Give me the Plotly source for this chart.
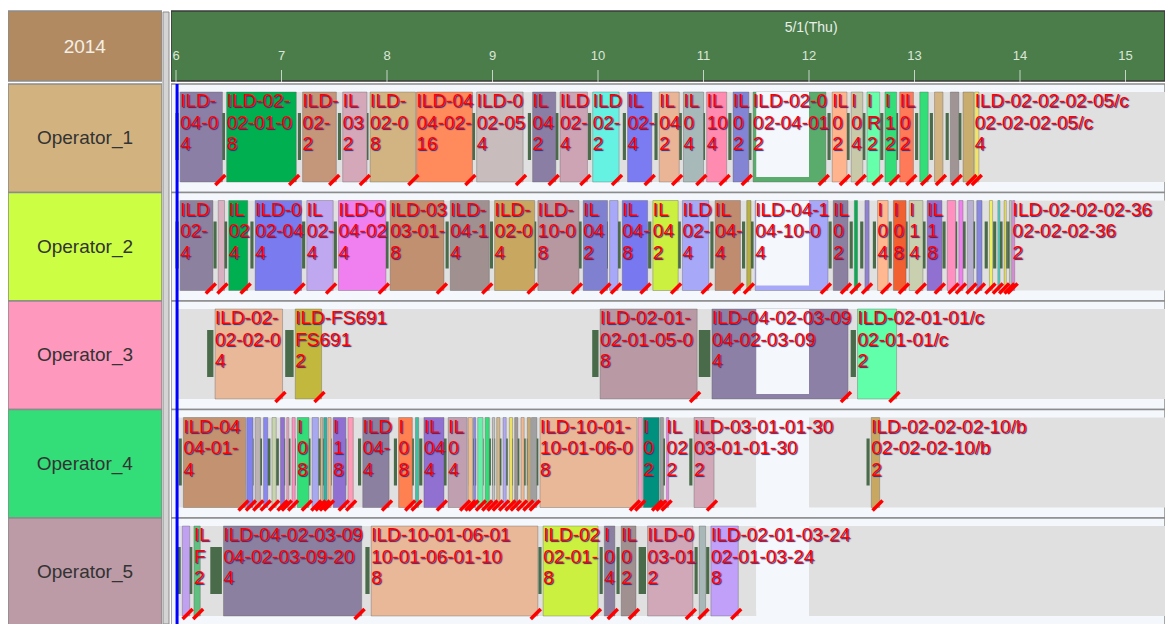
import plotly.graph_objects as go

# ---- header / rows
year_label = "2014"
day_label = "5/1(Thu)"
operators = ["Operator_1", "Operator_2", "Operator_3", "Operator_4", "Operator_5"]
hour_ticks = [6, 7, 8, 9, 10, 11, 12, 13, 14, 15]
now_time = 6.01
shift_start, shift_end = 6.0, 15.6
break_start, break_end = 11.5, 12.0

# ---- Operator_1
op1_start = [6.04, 6.48, 7.20, 7.58, 7.84, 8.28, 8.85, 9.38, 9.64, 9.95, 10.28, 10.58, 10.81,
             11.03, 11.28, 11.47, 12.22, 12.40, 12.55, 12.72, 12.86, 13.05, 13.19, 13.34, 13.46, 13.57]
op1_end = [6.44, 7.14, 7.52, 7.81, 8.27, 8.81, 9.29, 9.60, 9.90, 10.20, 10.51, 10.77, 11.00,
           11.22, 11.43, 12.16, 12.36, 12.51, 12.67, 12.83, 12.99, 13.13, 13.27, 13.42, 13.56, 13.61]
op1_item = ["ILD-04-02-03-09", "ILD-02-01-09-12", "ILD-02-02-03-11", "ILD-03-01-01-12", "ILD-02-01-05-01",
            "ILD-04-02-01-03", "ILD-02-05-01-02", "ILD-04-01-02", "ILD-02-03-01", "ILD-02-01-06",
            "ILD-02-04-02", "ILD-04-03-01", "ILD-04-01-05", "ILD-10-01-02", "ILD-02-02-01",
            "ILD-02-04-01-05", "ILD-02-03-05", "ILD-04-02-07", "ILD-R02", "ILD-10-01-03", "ILD-03-02-01",
            "", "", "", "", "ILD-02-02-02-05/c"]
op1_code = ["04-02-03-09-20", "02-01-09-12", "02-02-03-11", "03-01-01-12", "02-01-05-01",
            "04-02-01-03", "02-05-01-02", "04-01-02", "02-03-01", "02-01-06",
            "02-04-02", "04-03-01", "04-01-05", "10-01-02", "02-02-01",
            "02-04-01-05", "02-03-05", "04-02-07", "R02", "10-01-03", "03-02-01",
            "", "", "", "", "02-02-02-05/c"]
op1_qty = ["4", "8", "2", "2", "8", "16", "4", "2", "4", "2", "4", "2", "4", "4", "2",
           "2", "2", "4", "2", "2", "2", "", "", "", "", "4"]
op1_setup = None

# ---- Operator_2
op2_start = [6.04, 6.40, 6.50, 6.75, 7.24, 7.54, 8.03, 8.60, 9.02, 9.43, 9.86, 10.11, 10.23, 10.52,
             10.80, 11.11, 11.41, 11.49, 12.23, 12.43, 12.53, 12.65, 12.80, 12.95, 13.12, 13.31,
             13.42, 13.50, 13.59, 13.71, 13.79, 13.85, 13.90, 13.93]
op2_end = [6.35, 6.46, 6.68, 7.19, 7.49, 7.99, 8.54, 8.97, 9.40, 9.82, 10.09, 10.19, 10.47, 10.76,
           11.05, 11.35, 11.45, 12.18, 12.37, 12.46, 12.57, 12.75, 12.92, 13.08, 13.26, 13.39,
           13.46, 13.56, 13.64, 13.74, 13.81, 13.87, 13.92, 13.95]
op2_item = ["ILD-02-01-07", "", "ILD-02-04-05", "ILD-02-04-03", "ILD-02-03-08", "ILD-04-02-06",
            "ILD-03-01-04-02", "ILD-04-10-02", "ILD-02-03-10", "ILD-10-01-05", "ILD-04-02-09", "",
            "ILD-04-01-11", "ILD-04-03-02", "ILD-02-05-04", "ILD-04-02-11", "", "ILD-04-10-06-01",
            "ILD-04-01-03", "", "", "ILD-03-02-05", "ILD-03-01-06", "ILD-10-01-04", "ILD-10-02-01",
            "", "", "", "", "", "", "", "", "ILD-02-02-02-36"]
op2_code = ["02-01-07", "", "02-04-05", "02-04-03", "02-03-08", "04-02-06",
            "03-01-04-02", "04-10-02", "02-03-10", "10-01-05", "04-02-09", "",
            "04-01-11", "04-03-02", "02-05-04", "04-02-11", "", "04-10-06-01",
            "04-01-03", "", "", "03-02-05", "03-01-06", "10-01-04", "10-02-01",
            "", "", "", "", "", "", "", "", "02-02-02-36"]
op2_qty = ["4", "", "4", "4", "4", "4", "8", "4", "4", "8", "2", "", "8", "2", "4", "4", "", "4",
           "2", "", "", "4", "8", "4", "8", "", "", "", "", "", "", "", "", "2"]
op2_setup = None

# ---- Operator_3
op3_start = [6.37, 7.13, 10.02, 11.08, 12.46]
op3_end = [7.01, 7.38, 10.94, 12.37, 12.83]
op3_item = ["ILD-02-02-03-07", "ILD-FS691", "ILD-02-01-05-04", "ILD-04-02-03-09", "ILD-02-01-01/c"]
op3_code = ["02-02-03-07", "FS691", "02-01-05-04", "04-02-03-09", "02-01-01/c"]
op3_qty = ["4", "2", "8", "4", "2"]
op3_setup = [0.06, 0.08, 0.06, 0.11, 0.05]

# ---- Operator_4
op4_start = [6.07, 6.67, 6.75, 6.83, 6.91, 6.99, 7.05, 7.10, 7.15, 7.29, 7.37, 7.40, 7.44, 7.49,
             7.63, 7.77, 8.11, 8.27, 8.35, 8.58, 8.77, 8.82, 8.86, 8.93, 9.00, 9.04, 9.10, 9.16,
             9.21, 9.27, 9.33, 9.37, 9.45, 10.38, 10.43, 10.59, 10.65, 10.91, 12.59]
op4_end = [6.66, 6.73, 6.80, 6.87, 6.95, 7.03, 7.07, 7.13, 7.26, 7.35, 7.39, 7.43, 7.47, 7.61,
           7.68, 8.02, 8.24, 8.30, 8.54, 8.76, 8.81, 8.84, 8.91, 8.97, 9.02, 9.07, 9.13, 9.19,
           9.24, 9.30, 9.36, 9.42, 10.37, 10.42, 10.58, 10.62, 10.67, 11.10, 12.67]
op4_item = ["ILD-04-01-06-02", "", "", "", "", "", "", "", "ILD-04-03", "", "", "", "",
            "ILD-10-01", "", "ILD-04-02-05", "ILD-03-01", "", "ILD-04-04", "ILD-02-06",
            "", "", "", "", "", "", "", "", "", "", "", "", "ILD-10-01-06-01", "",
            "ILD-04-02-08", "", "ILD-02-07", "ILD-03-01-01-30", "ILD-02-02-02-10/b"]
op4_code = ["04-01-06-02", "", "", "", "", "", "", "", "04-03-05", "", "", "", "",
            "10-01-07", "", "04-02-05", "03-01-03", "", "04-04-02", "02-06-01",
            "", "", "", "", "", "", "", "", "", "", "", "", "10-01-06-01", "",
            "04-02-08", "", "02-07-03", "03-01-01-30", "02-02-02-10/b"]
op4_qty = ["4", "", "", "", "", "", "", "", "8", "", "", "", "", "8", "", "4", "8", "", "4", "4",
           "", "", "", "", "", "", "", "", "", "", "", "", "8", "", "2", "", "2", "2", "2"]
op4_setup = None

# ---- Operator_5
op5_start = [6.06, 6.17, 6.45, 7.85, 9.48, 10.06, 10.22, 10.47, 10.96, 11.07]
op5_end = [6.13, 6.23, 7.76, 9.43, 10.00, 10.16, 10.36, 10.90, 11.02, 11.33]
op5_item = ["", "ILD-FS691", "ILD-04-02-03-09", "ILD-10-01-06-01", "ILD-02-01-07", "ILD-04-03",
            "ILD-02-04", "ILD-03-01-02", "", "ILD-02-01-03-24"]
op5_code = ["", "FS691", "04-02-03-09-20", "10-01-06-01-10", "02-01-07", "04-03-01",
            "02-04-05", "03-01-02", "", "02-01-03-24"]
op5_qty = ["", "2", "4", "8", "8", "4", "2", "2", "", "8"]
op5_setup = [0.03, 0.03, 0.11, 0.04, 0.03, 0.03, 0.03, 0.07, 0.03, 0.03]

# ---- styles
cell_colors = ["#b28a62", "#d2b380", "#ccff44", "#ff98bd", "#33dd77", "#bc9aa6"]
op1_color = ["#8b7fa6", "#00b050", "#c4967a", "#d4a8b8", "#d2b482", "#ff8a5c", "#c9bcbc", "#8a7ea4",
             "#cca4b4", "#66f2e2", "#7b7bf2", "#eab596", "#a8b9b9", "#ff8bb0", "#8484d4", "#5aac6c",
             "#ffb48e", "#c8c9a9", "#66ffaa", "#33dd77", "#ff7a58", "#33dd77", "#d2b482", "#a09594",
             "#c9ad6e", "#f2e46a"]
op2_color = ["#8c82a0", "#d8b0c0", "#00b050", "#7b7bf0", "#c0a8f0", "#f080f0", "#c09070", "#a09090",
             "#c8a860", "#b898a0", "#8080d0", "#a8a8f8", "#7878f0", "#ccf040", "#a8a8f8", "#c08c70",
             "#b8b040", "#a8a8f8", "#8c80a0", "#00b050", "#9080d0", "#ffb890", "#f06030", "#c8d0b0",
             "#9070d0", "#ff90c0", "#f080f0", "#b8b0d0", "#8888e0", "#f0f060", "#50d0c0", "#e8e060",
             "#c0c0c0", "#f080f0"]
op3_color = ["#e8b898", "#c2b83e", "#b99aa4", "#8c80a6", "#62ffaa"]
op4_color = ["#c39270", "#8080f0", "#bcb4b4", "#8888f0", "#c8d4b0", "#9070d0", "#f0a0c0", "#ff90c0",
             "#33dd77", "#a8a8f0", "#d4b88a", "#30b0a0", "#f0b890", "#9070d0", "#ff9ab8", "#8c80a0",
             "#ff8050", "#40c0a0", "#9070d0", "#c0a0b0", "#f0c090", "#8888f0", "#66f0a8", "#33dd77",
             "#c0c0c0", "#d4b88a", "#b0a8f0", "#f0e060", "#a09898", "#f0b890", "#c8a870", "#a0a0a0",
             "#e8b898", "#f0a0c0", "#00907e", "#a0a0a0", "#f080f0", "#d0a8b8", "#c8a860"]
op5_color = ["#c0a0f0", "#60c080", "#8c80a0", "#e8b898", "#ccf040", "#8c80a0", "#a09090", "#d0a8b8",
             "#a8b8b8", "#c0a0f8"]

rows = [
    (op1_start, op1_end, op1_item, op1_code, op1_qty, op1_color, op1_setup),
    (op2_start, op2_end, op2_item, op2_code, op2_qty, op2_color, op2_setup),
    (op3_start, op3_end, op3_item, op3_code, op3_qty, op3_color, op3_setup),
    (op4_start, op4_end, op4_item, op4_code, op4_qty, op4_color, op4_setup),
    (op5_start, op5_end, op5_item, op5_code, op5_qty, op5_color, op5_setup),
]

W, H = 1165, 624
X0, X1 = 5.9526, 15.3744
PXH = (W - 171) / (X1 - X0)   # pixels per hour
ROW_PX = 108.5
FONT = 19
GAP = 0.015
DEFAULT_SETUP = 0.03

CW = {'I': 278, 'L': 556, 'D': 722, '-': 333, '/': 278, 'c': 500, 'b': 556,
      'F': 611, 'S': 667, 'R': 722}


def fit(s, avail):
    # labels get cut where the next job (its setup mark) starts
    out, used = "", 0.0
    for ch in s:
        w = CW.get(ch, 556) * FONT / 1000
        if used + w > avail + 2:
            break
        out += ch
        used += w
    return out


def yoff(i, px):
    return i - 0.5 + px / ROW_PX


fig = go.Figure()

# left column cells
head_y = yoff(0, -38)
head_w = 70 / ROW_PX
fig.add_trace(go.Bar(
    orientation="h", x=[1] * 6, base=0, y=[head_y] + list(range(5)),
    width=[head_w] + [1] * 5, marker=dict(color=cell_colors, line=dict(color="#8c8c8c", width=1.5)),
    text=[year_label] + operators, textposition="inside", insidetextanchor="middle",
    insidetextfont=dict(family="Arial, Liberation Sans", size=19,
                        color=["#f4efe6"] + ["#333333"] * 5),
    xaxis="x2", yaxis="y", hoverinfo="skip"))

# header band
fig.add_trace(go.Bar(
    orientation="h", base=[X0], x=[X1 - X0], y=[head_y], width=[head_w],
    marker=dict(color="#4b7d4b", line=dict(color="#3a3a3a", width=1.5)), hoverinfo="skip"))

# row backgrounds
fig.add_trace(go.Bar(
    orientation="h", base=[X0] * 5, x=[X1 - X0] * 5, y=list(range(5)), width=[1] * 5,
    marker=dict(color="#f4f8fc", line=dict(color="#8c8c8c", width=1.5)), hoverinfo="skip"))

# gray working band (split at the break)
by, bx, bl = [], [], []
for i in range(5):
    for a, b in [(shift_start, break_start), (break_end, shift_end)]:
        by.append(yoff(i, 53))
        bx.append(a)
        bl.append(b - a)
fig.add_trace(go.Bar(orientation="h", base=bx, x=bl, y=by, width=90 / ROW_PX,
                     marker=dict(color="#e0e0e0", line=dict(width=0)), hoverinfo="skip"))

sx, sl, sy = [], [], []
tx, tl, ty, tc, th = [], [], [], [], []
slash_x, slash_y = [], []
lab = [[], [], []]
lab_x, lab_y = [], [[], [], []]
for i, (st, en, item, code, qty, col, setup) in enumerate(rows):
    n = len(st)
    su = setup if setup is not None else [DEFAULT_SETUP] * n
    for k in range(n):
        sx.append(st[k] - GAP - su[k])
        sl.append(su[k])
        sy.append(yoff(i, 52.5))
        tx.append(st[k])
        tl.append(en[k] - st[k])
        ty.append(yoff(i, 53))
        tc.append(col[k])
        th.append(f"{operators[i]}<br>{item[k]}<br>{code[k]}<br>{qty[k]}")
        slash_x.append(en[k] - 0.02)
        slash_y.append(yoff(i, 96))
        if k < n - 1:
            avail = (st[k + 1] - su[k + 1] - GAP - st[k]) * PXH
            texts = [fit(item[k], avail), fit(code[k], avail), fit(qty[k], avail)]
        else:
            texts = [item[k], code[k], qty[k]]
        lab_x.append(st[k])
        for j, off in enumerate([18.5, 40, 61.5]):
            lab[j].append(texts[j])
            lab_y[j].append(yoff(i, off))

# setup markers
fig.add_trace(go.Bar(orientation="h", base=sx, x=sl, y=sy, width=47 / ROW_PX,
                     marker=dict(color="#4a6b4a", line=dict(width=0)), hoverinfo="skip"))
# tasks
fig.add_trace(go.Bar(orientation="h", base=tx, x=tl, y=ty, width=90 / ROW_PX,
                     marker=dict(color=tc, line=dict(color="rgba(90,90,90,0.45)", width=0.8)),
                     hovertext=th, hoverinfo="text"))
# lunch break
fig.add_trace(go.Bar(orientation="h", base=[break_start] * 5, x=[break_end - break_start] * 5,
                     y=[yoff(i, 50.5) for i in range(5)], width=85 / ROW_PX,
                     marker=dict(color="#f4f8fc", line=dict(width=0)), hoverinfo="skip"))
# end markers
fig.add_trace(go.Scatter(x=slash_x, y=slash_y, mode="markers", hoverinfo="skip",
                         marker=dict(symbol="line-ne", size=10, line=dict(color="#ff0000", width=3.5))))
# labels
for j in range(3):
    fig.add_trace(go.Scatter(
        x=lab_x, y=lab_y[j], text=lab[j], mode="text", textposition="middle right",
        textfont=dict(family="Arial, Liberation Sans", size=FONT, color="#ff0000",
                      shadow="1px 1px 1px #2a2a7a"),
        hoverinfo="skip", cliponaxis=True))

# hour ticks and labels
tick_x, tick_y = [], []
for h in hour_ticks:
    tick_x += [h, h, None]
    tick_y += [yoff(0, -14), yoff(0, -2), None]
fig.add_trace(go.Scatter(x=tick_x, y=tick_y, mode="lines", line=dict(color="#c8d2c8", width=1),
                         hoverinfo="skip"))
fig.add_trace(go.Scatter(x=hour_ticks, y=[yoff(0, -27)] * len(hour_ticks),
                         text=[str(h) for h in hour_ticks], mode="text", textposition="middle center",
                         textfont=dict(family="Arial, Liberation Sans", size=13, color="#dbe6d8"),
                         hoverinfo="skip"))
fig.add_trace(go.Scatter(x=[12.02], y=[yoff(0, -56)], text=[day_label], mode="text",
                         textposition="middle center",
                         textfont=dict(family="Arial, Liberation Sans", size=14, color="#e8efe6"),
                         hoverinfo="skip"))
# current time line
fig.add_trace(go.Scatter(x=[now_time, now_time], y=[-0.5, 4.6], mode="lines",
                         line=dict(color="#0000ff", width=3), hoverinfo="skip"))

fig.update_layout(
    width=W, height=H, margin=dict(l=0, r=0, t=0, b=0),
    paper_bgcolor="white", plot_bgcolor="white",
    barmode="overlay", showlegend=False,
    xaxis=dict(domain=[171 / W, 1], range=[X0, X1], visible=False, anchor="y"),
    xaxis2=dict(domain=[8 / W, 162 / W], range=[0, 1], visible=False, anchor="y"),
    yaxis=dict(domain=[0, 1], range=[yoff(4, 540 - 4 * ROW_PX), yoff(0, -84)], visible=False),
    shapes=[dict(type="rect", xref="paper", yref="paper", x0=163 / W, x1=169 / W, y0=0, y1=1 - 12 / H,
                 fillcolor="#d4d4d4", line=dict(color="#8c8c8c", width=1), layer="below")],
)

fig.write_html("out.html", config={"displayModeBar": False},
               post_script="document.body.style.margin='0px';")
